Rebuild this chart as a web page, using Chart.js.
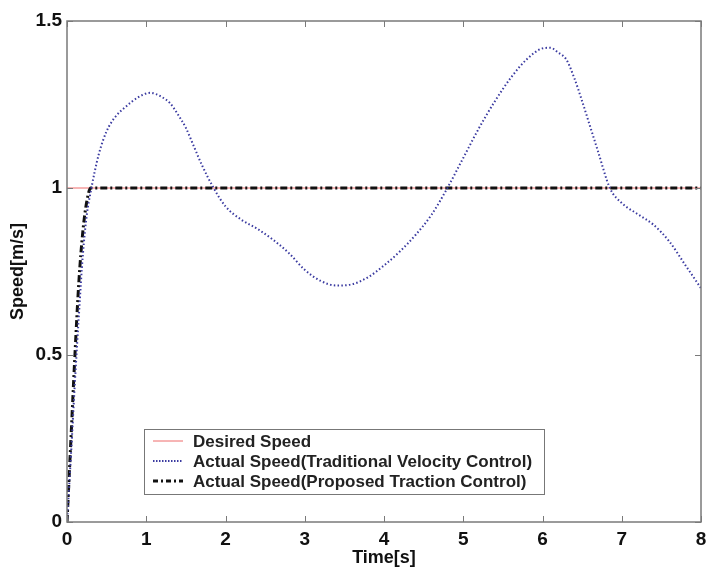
<!DOCTYPE html>
<html>
<head>
<meta charset="utf-8">
<script src="https://cdn.jsdelivr.net/npm/chart.js@4/dist/chart.umd.min.js"></script>
<style>
  html, body { margin: 0; padding: 0; background: #fff; }
  #wrap { width: 706px; height: 569px; position: relative; }
</style>
</head>
<body>
<div id="wrap"><canvas id="myChart"></canvas></div>
<script>
"use strict";

// values
const seriesNames = [
  "Desired Speed",
  "Actual Speed(Traditional Velocity Control)",
  "Actual Speed(Proposed Traction Control)",
];

const desiredTime = [0, 8];
const desiredSpeed = [1, 1];

const velocityTime = [0, 0.05, 0.1, 0.15, 0.2, 0.25, 0.3, 0.4, 0.5, 0.6, 0.75, 0.9, 1.05, 1.2, 1.3, 1.4,
  1.5, 1.6, 1.7, 1.85, 2.0, 2.2, 2.4, 2.6, 2.8, 3.0, 3.2, 3.4, 3.6, 3.8, 4.0, 4.2, 4.4, 4.6, 4.8,
  5.0, 5.2, 5.4, 5.6, 5.8, 6.0, 6.1, 6.2, 6.3, 6.4, 6.5, 6.6, 6.7, 6.85, 7.0, 7.2, 7.4, 7.6, 7.8, 8.0];
const velocitySpeed = [0, 0.2, 0.42, 0.62, 0.8, 0.92, 0.99, 1.1, 1.17, 1.21, 1.245, 1.272, 1.285, 1.272, 1.254, 1.22,
  1.18, 1.125, 1.07, 1.0, 0.945, 0.905, 0.878, 0.845, 0.805, 0.755, 0.722, 0.708, 0.712, 0.733, 0.768, 0.81, 0.86, 0.92, 1.0,
  1.09, 1.18, 1.26, 1.33, 1.385, 1.418, 1.42, 1.405, 1.385, 1.33, 1.26, 1.185, 1.11, 1.0, 0.955, 0.922, 0.89, 0.84, 0.77, 0.70];

const tractionTime = [0, 0.05, 0.1, 0.15, 0.2, 0.25, 0.3, 8];
const tractionSpeed = [0, 0.25, 0.5, 0.72, 0.87, 0.96, 1.0, 1.0];

const xTicks = [0, 1, 2, 3, 4, 5, 6, 7, 8];
const yTicks = [0, 0.5, 1, 1.5];

function toPoints(xs, ys) {
  return xs.map((x, i) => ({ x: x, y: ys[i] }));
}

const FONT = "'Liberation Sans', Arial, sans-serif";

// box, inward ticks and the legend inside the axes
const frame = {
  id: "frame",
  afterDraw(chart) {
    const ctx = chart.ctx,
      a = chart.chartArea,
      xs = chart.scales.x,
      ys = chart.scales.y;
    ctx.save();
    ctx.strokeStyle = "#7a7a7a";
    ctx.lineWidth = 1.5;
    ctx.strokeRect(a.left, a.top, a.right - a.left, a.bottom - a.top);

    ctx.lineWidth = 1;
    ctx.beginPath();
    xTicks.forEach((v) => {
      const px = Math.round(xs.getPixelForValue(v)) + 0.5;
      ctx.moveTo(px, a.bottom); ctx.lineTo(px, a.bottom - 6);
      ctx.moveTo(px, a.top); ctx.lineTo(px, a.top + 6);
    });
    yTicks.forEach((v) => {
      const py = Math.round(ys.getPixelForValue(v)) + 0.5;
      ctx.moveTo(a.left, py); ctx.lineTo(a.left + 6, py);
      ctx.moveTo(a.right, py); ctx.lineTo(a.right - 6, py);
    });
    ctx.stroke();

    // legend
    const lx = a.left + 77, ly = a.top + 408, lw = 400, lh = 65;
    ctx.fillStyle = "#fff";
    ctx.fillRect(lx, ly, lw, lh);
    ctx.strokeStyle = "#777";
    ctx.lineWidth = 1;
    ctx.strokeRect(lx + 0.5, ly + 0.5, lw, lh);
    ctx.font = "bold 17px " + FONT;
    ctx.textBaseline = "middle";
    chart.data.datasets.forEach((ds, i) => {
      const y = ly + 12 + i * 20;
      ctx.beginPath();
      ctx.strokeStyle = ds.borderColor;
      ctx.lineWidth = ds.borderWidth;
      ctx.setLineDash(ds.legendDash || ds.borderDash || []);
      ctx.moveTo(lx + 9, y);
      ctx.lineTo(lx + 39, y);
      ctx.stroke();
      ctx.setLineDash([]);
      ctx.fillStyle = "#222";
      ctx.fillText(ds.label, lx + 49, y + 1);
    });
    ctx.restore();
  },
};

const chart = new Chart(document.getElementById("myChart"), {
  type: "line",
  data: {
    datasets: [
      {
        label: seriesNames[0],
        data: toPoints(desiredTime, desiredSpeed),
        borderColor: "#ee6a6a",
        borderWidth: 1,
        pointRadius: 0,
        order: 3,
      },
      {
        label: seriesNames[1],
        data: toPoints(velocityTime, velocitySpeed),
        borderColor: "#3a3aa0",
        borderWidth: 2,
        borderDash: [1.5, 2.3],
        legendDash: [1.5, 1.5],
        pointRadius: 0,
        cubicInterpolationMode: "monotone",
        order: 1,
      },
      {
        label: seriesNames[2],
        data: toPoints(tractionTime, tractionSpeed),
        borderColor: "#111",
        borderWidth: 3,
        borderDash: [7, 3, 2, 3],
        legendDash: [5, 3, 2, 3],
        pointRadius: 0,
        cubicInterpolationMode: "monotone",
        order: 2,
      },
    ],
  },
  options: {
    responsive: true,
    maintainAspectRatio: false,
    animation: false,
    layout: { padding: { top: 21, right: 5, left: 0, bottom: 0 } },
    plugins: { legend: { display: false }, tooltip: { enabled: false } },
    scales: {
      x: {
        type: "linear",
        min: 0,
        max: 8,
        afterBuildTicks: (s) => { s.ticks = xTicks.map((v) => ({ value: v })); },
        afterFit: (s) => { s.height = 47; s.paddingLeft = 0; s.paddingRight = 0; },
        grid: { display: false, drawTicks: false },
        border: { display: false },
        ticks: {
          padding: 6,
          color: "#111",
          font: { family: FONT, size: 19, weight: "bold" },
          callback: (v) => String(v),
        },
        title: {
          display: true,
          text: "Time[s]",
          color: "#111",
          font: { family: FONT, size: 18, weight: "bold" },
          padding: { top: 0, bottom: 0 },
        },
      },
      y: {
        min: 0,
        max: 1.5,
        afterBuildTicks: (s) => { s.ticks = yTicks.map((v) => ({ value: v })); },
        afterFit: (s) => { s.width = 67; s.paddingTop = 0; s.paddingBottom = 0; },
        grid: { display: false, drawTicks: false },
        border: { display: false },
        ticks: {
          padding: 5,
          color: "#111",
          font: { family: FONT, size: 19, weight: "bold" },
          callback: (v) => String(v),
        },
        title: {
          display: true,
          text: "Speed[m/s]",
          color: "#111",
          font: { family: FONT, size: 18, weight: "bold" },
          padding: { top: 7, bottom: 0 },
        },
      },
    },
  },
  plugins: [frame],
});
</script>
</body>
</html>
